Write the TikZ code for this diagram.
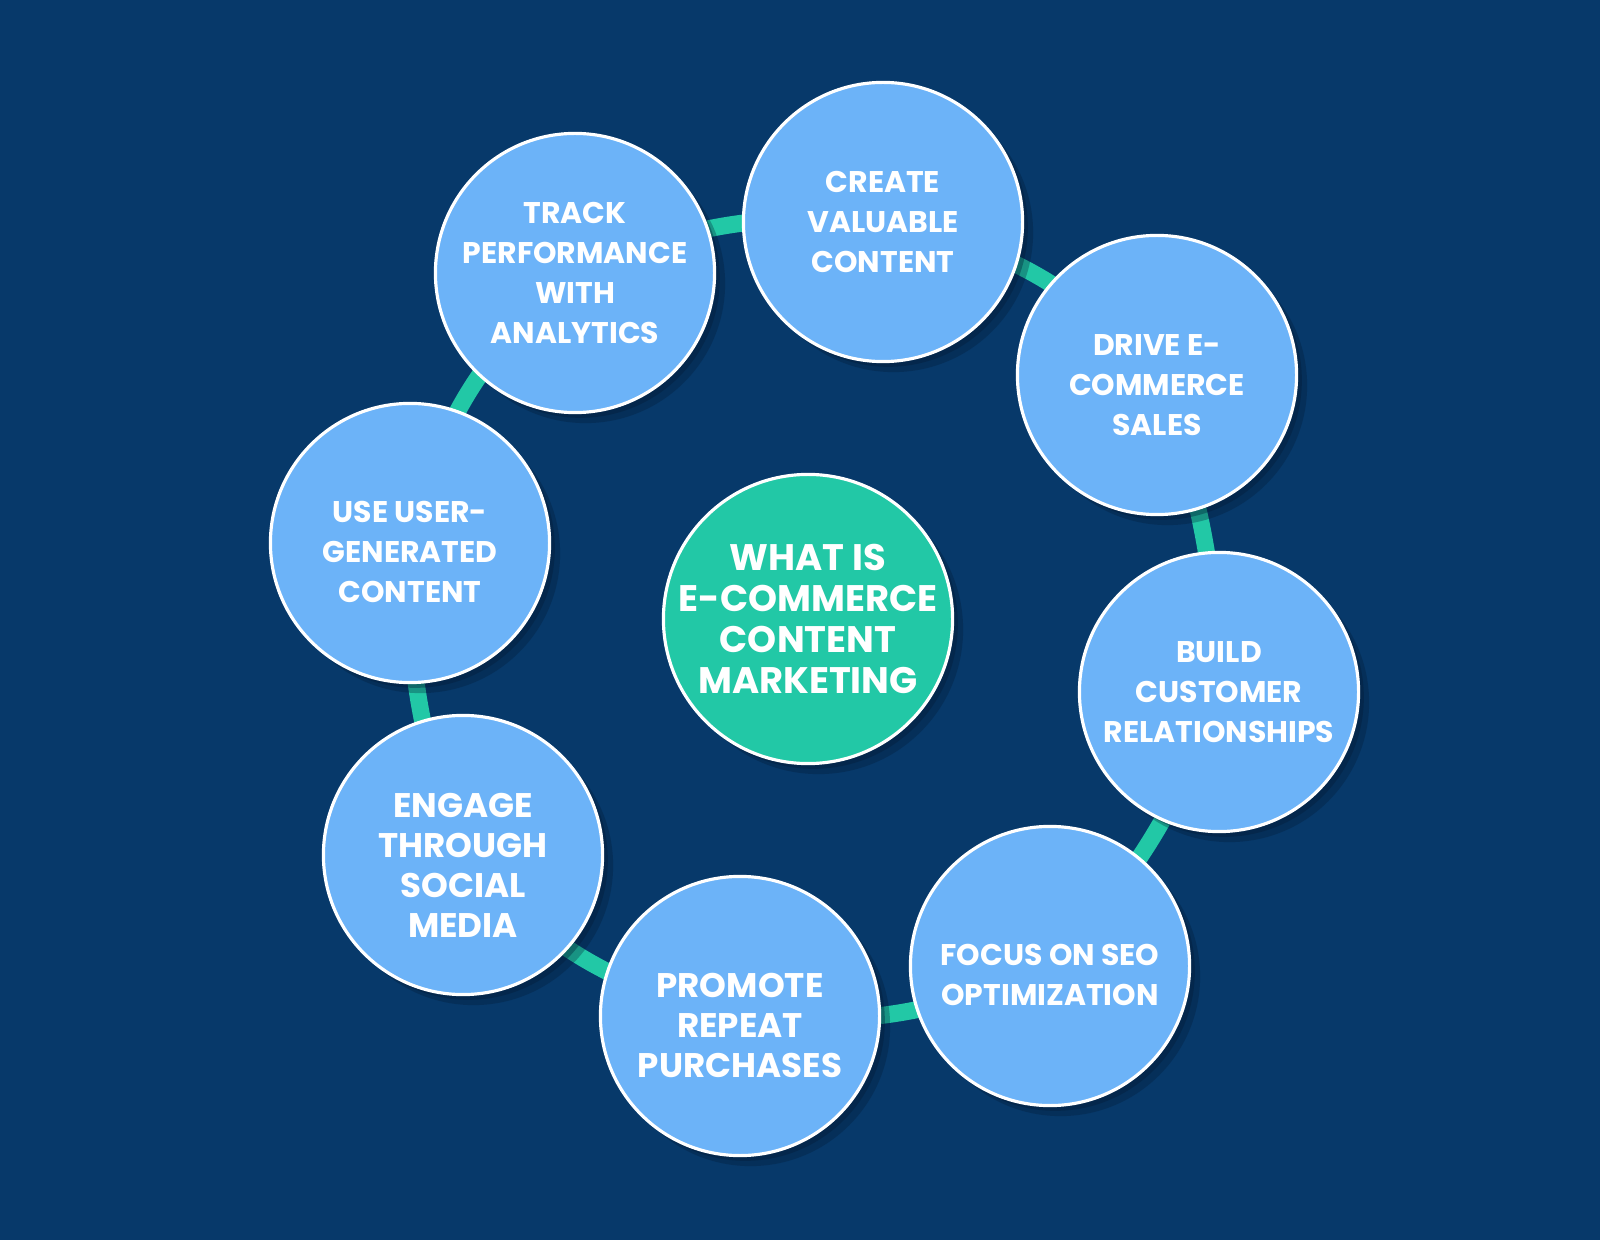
\documentclass[tikz,border=0pt]{standalone}
\usepackage{fontspec}
\setmainfont{Poppins}
\usetikzlibrary{shadows}
\definecolor{navy}{RGB}{7,57,106}
\definecolor{skyblue}{RGB}{108,179,248}
\definecolor{mint}{RGB}{34,200,166}
\definecolor{deepnavy}{RGB}{2,26,52}
\pgfdeclarelayer{back}
\pgfsetlayers{back,main}

\begin{document}
\begin{tikzpicture}[
    x=0.01cm, y=-0.01cm,
    bubble/.style={circle, draw=white, line width=0.9pt, fill=skyblue,
                   minimum size=2.79cm, inner sep=0pt,
                   drop shadow={shadow xshift=1.5pt, shadow yshift=-1.5pt,
                                opacity=0.35, fill=deepnavy},
                   drop shadow={shadow xshift=3pt, shadow yshift=-3pt,
                                opacity=0.3, fill=deepnavy}},
    hub/.style={bubble, fill=mint, minimum size=2.89cm},
    tag/.style={text=white, align=center,
                font=\bfseries\fontsize{8.5}{11.4}\selectfont},
    bigtag/.style={tag, font=\bfseries\fontsize{9.7}{11.4}\selectfont},
    hubtag/.style={tag, font=\bfseries\fontsize{10.5}{11.7}\selectfont},
    link/.style={draw=mint, line width=0.17cm}
  ]
  \useasboundingbox (0,0) rectangle (1600,1240);

  \node[hub] (hub) at (808,619) {};
  \node[hubtag] (hubtxt) at (hub) {WHAT IS\\E-COMMERCE\\CONTENT\\MARKETING};

  \node[bubble] (create) at (883,222) {};
  \node[tag] (createtxt) at (create) {CREATE\\VALUABLE\\CONTENT};
  \node[bubble] (drive) at (1157,375) {};
  \node[tag, yshift=-2.8pt] (drivetxt) at (drive) {DRIVE E-\\COMMERCE\\SALES};
  \node[bubble] (build) at (1219,692) {};
  \node[tag] (buildtxt) at (build) {BUILD\\CUSTOMER\\RELATIONSHIPS};
  \node[bubble] (focus) at (1050,966) {};
  \node[tag, yshift=-2.6pt] (focustxt) at (focus) {FOCUS ON SEO\\OPTIMIZATION};
  \node[bubble] (promote) at (740,1016) {};
  \node[bigtag, yshift=-2.8pt] (promotetxt) at (promote) {PROMOTE\\REPEAT\\PURCHASES};
  \node[bubble] (engage) at (463,855) {};
  \node[bigtag, yshift=-3pt] (engagetxt) at (engage) {ENGAGE\\THROUGH\\SOCIAL\\MEDIA};
  \node[bubble] (use) at (410,543) {};
  \node[tag, yshift=-2.6pt] (usetxt) at (use) {USE USER-\\GENERATED\\CONTENT};
  \node[bubble] (track) at (575,273) {};
  \node[tag] (tracktxt) at (track) {TRACK\\PERFORMANCE\\WITH\\ANALYTICS};

  \begin{pgfonlayer}{back}
    \fill[navy] (0,0) rectangle (1600,1240);
    \draw[link] (create.center) to[bend left=18] (drive.center);
    \draw[link] (drive.center) to[bend left=9] (build.center);
    \draw[link] (build.center) to[bend left=12] (focus.center);
    \draw[link] (focus.center) to[bend left=14] (promote.center);
    \draw[link] (promote.center) to[bend left=18] (engage.center);
    \draw[link] (engage.center) to[bend left=11] (use.center);
    \draw[link] (use.center) to[bend left=18] (track.center);
    \draw[link] (track.center) to[bend left=14] (create.center);
  \end{pgfonlayer}
\end{tikzpicture}
\end{document}
